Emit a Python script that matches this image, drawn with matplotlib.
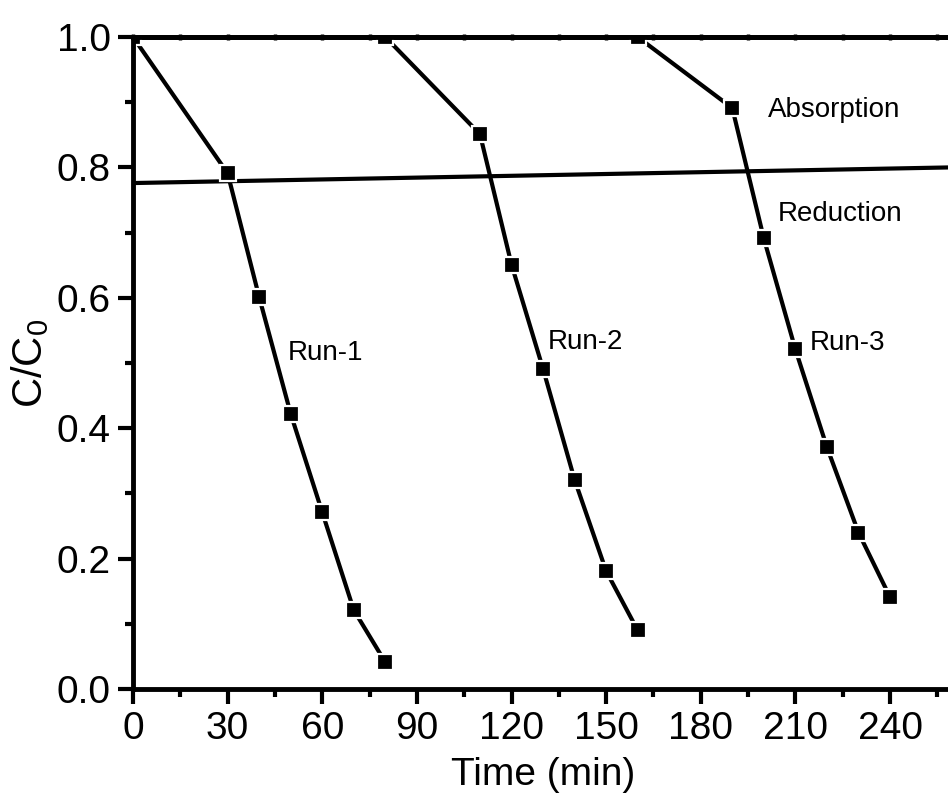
import matplotlib
matplotlib.use("Agg")
import matplotlib.pyplot as plt
from matplotlib.ticker import MultipleLocator, FixedLocator

plt.rcParams["font.family"] = ["Liberation Sans", "DejaVu Sans"]
plt.rcParams["mathtext.default"] = "regular"

# Three consecutive runs: concentration ratio vs. time
run1_t = [0, 30, 40, 50, 60, 70, 80]
run1_c = [1.0, 0.791, 0.601, 0.422, 0.271, 0.121, 0.041]
run2_t = [80, 110, 120, 130, 140, 150, 160]
run2_c = [1.0, 0.851, 0.651, 0.491, 0.321, 0.181, 0.090]
run3_t = [160, 190, 200, 210, 220, 230, 240]
run3_c = [1.0, 0.891, 0.691, 0.521, 0.371, 0.240, 0.141]

# Divider between the absorption and reduction stages
divider_t = [0, 270]
divider_c = [0.776, 0.801]

labels = [("Run-1", 49.2, 0.504), ("Run-2", 131.4, 0.521), ("Run-3", 214.6, 0.520),
          ("Absorption", 201.3, 0.877), ("Reduction", 204.5, 0.718)]
x_ticks = [0, 30, 60, 90, 120, 150, 180, 210, 240]

W, H = 948, 796
fig = plt.figure(figsize=(W / 100, H / 100), dpi=100)
# axes runs past the right edge of the figure (x up to 270)
x0, y0, y1 = 133, 689, 37
px_per_min = (890 - 133) / 240
x1 = x0 + 270 * px_per_min
ax = fig.add_axes([x0 / W, (H - y0) / H, (x1 - x0) / W, (y0 - y1) / H])

ax.plot(divider_t, divider_c, color="black", lw=3.0, solid_capstyle="butt")
for t, c in [(run1_t, run1_c), (run2_t, run2_c), (run3_t, run3_c)]:
    ax.plot(t, c, color="black", lw=3.0, marker="s", markersize=11,
            markerfacecolor="black", markeredgecolor="white", markeredgewidth=1.6)

for txt, x, y in labels:
    ax.text(x, y, txt, fontsize=20, ha="left", va="baseline")

ax.set_xlim(0, 270)
ax.set_ylim(0, 1.0)
ax.xaxis.set_major_locator(FixedLocator(x_ticks))
ax.xaxis.set_minor_locator(MultipleLocator(15))
ax.yaxis.set_major_locator(MultipleLocator(0.2))
ax.yaxis.set_minor_locator(MultipleLocator(0.1))
ax.yaxis.set_major_formatter(plt.FuncFormatter(lambda v, p: f"{v:.1f}"))

for s in ax.spines.values():
    s.set_linewidth(3.5)
ax.spines["right"].set_visible(False)

ax.tick_params(axis="both", which="major", direction="out", length=11, width=3,
               labelsize=28, pad=5)
ax.tick_params(axis="both", which="minor", direction="out", length=6, width=3)

# short ticks straddling the top edge
top = ax.secondary_xaxis("top")
top.xaxis.set_major_locator(MultipleLocator(15))
top.tick_params(which="major", direction="inout", length=5, width=2.5, labeltop=False)
top.spines["top"].set_linewidth(3.5)

ax.set_xlabel("Time (min)", fontsize=28, labelpad=0)
ax.set_ylabel("C/C$_0$", fontsize=30, labelpad=4)
ax.xaxis.set_label_coords((543 - x0) / (x1 - x0), -0.105)

fig.savefig("out.png", dpi=100)
